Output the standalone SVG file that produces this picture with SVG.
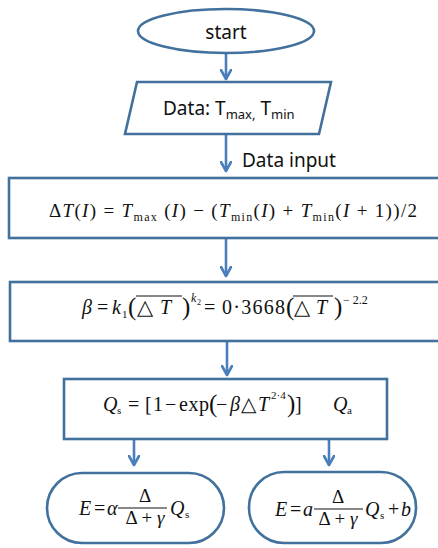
<svg xmlns="http://www.w3.org/2000/svg" width="438" height="548" viewBox="0 0 438 548">
  <defs>
    <marker id="open-arrow" viewBox="0 0 12 12" refX="10" refY="6" markerWidth="12" markerHeight="12" markerUnits="userSpaceOnUse" orient="auto">
      <path d="M1,1 L10,6 L1,11" fill="none" stroke="#4A7EBB" stroke-width="2.6" stroke-linecap="round" stroke-linejoin="round"/>
    </marker>
    <style>
      .shape { fill: #ffffff; stroke: #41719C; stroke-width: 2.6; }
      .label { font-family: "Noto Sans", "Open Sans", sans-serif; font-size: 19px; fill: #111111; }
      .sub { font-size: 13px; }
      .math { font-family: "Liberation Serif", "DejaVu Serif", serif; font-size: 19px; fill: #111111; }
      .big { font-size: 20px; }
      .tri { font-size: 21px; }
      .paren { font-size: 25px; }
      .it { font-style: italic; }
      .small { font-size: 12px; }
      .tiny { font-size: 11px; }
      .conn { stroke: #4A7EBB; stroke-width: 2.6; fill: none; marker-end: url(#open-arrow); }
      .bar { stroke: #111111; stroke-width: 1.1; }
    </style>
  </defs>

  <!-- connectors -->
  <g id="connectors">
    <line class="conn" x1="226" y1="54" x2="226" y2="79"/>
    <line class="conn" x1="226" y1="134" x2="226" y2="171"/>
    <line class="conn" x1="226" y1="238" x2="226" y2="276"/>
    <line class="conn" x1="227" y1="341" x2="227" y2="375"/>
    <line class="conn" x1="134" y1="439" x2="134" y2="465"/>
    <line class="conn" x1="329" y1="439" x2="329" y2="465"/>
    <text class="label" x="242" y="167">Data input</text>
  </g>

  <!-- start terminator -->
  <g id="start">
    <ellipse class="shape" cx="226" cy="31" rx="88" ry="22"/>
    <text class="label" x="226" y="39" text-anchor="middle">start</text>
  </g>

  <!-- input data -->
  <g id="data">
    <polygon class="shape" points="137,82 331,82 319,134 125,134"/>
    <text class="label" x="163" y="115">Data: T<tspan class="sub" dy="4">max,</tspan><tspan dy="-4"> T</tspan><tspan class="sub" dy="4">min</tspan></text>
  </g>

  <!-- temperature range -->
  <g id="delta-t">
    <rect class="shape" x="9" y="178" width="440" height="60"/>
    <text class="math" x="49" y="217" textLength="368">Δ<tspan class="it">T</tspan>(<tspan class="it">I</tspan>) = <tspan class="it">T</tspan><tspan class="small" dy="4">max</tspan><tspan dy="-4"> (</tspan><tspan class="it">I</tspan>) − (<tspan class="it">T</tspan><tspan class="small" dy="4">min</tspan><tspan dy="-4">(</tspan><tspan class="it">I</tspan>) + <tspan class="it">T</tspan><tspan class="small" dy="4">min</tspan><tspan dy="-4">(</tspan><tspan class="it">I</tspan> + 1))/2</text>
  </g>

  <!-- beta coefficient -->
  <g id="beta">
    <rect class="shape" x="10" y="282" width="440" height="59"/>
    <text class="math big it" x="82" y="314">β</text>
    <text class="math big" x="97" y="314">=</text>
    <text class="math big it" x="112" y="314">k</text>
    <text class="math tiny" x="122" y="318">1</text>
    <text class="math paren" x="128" y="315">(</text>
    <line class="bar" x1="136" y1="296" x2="182" y2="296"/>
    <text class="math tri" x="137" y="314">△</text>
    <text class="math big it" x="160" y="314">T</text>
    <text class="math paren" x="182" y="315">)</text>
    <text class="math small it" x="191" y="302">k</text>
    <text class="math" x="197" y="305" style="font-size:8px">2</text>
    <text class="math big" x="204" y="314">=</text>
    <text class="math big" x="222" y="314" textLength="63">0·3668</text>
    <text class="math paren" x="286" y="315">(</text>
    <line class="bar" x1="293" y1="296" x2="333" y2="296"/>
    <text class="math tri" x="294" y="314">△</text>
    <text class="math big it" x="316" y="314">T</text>
    <text class="math paren" x="334" y="315">)</text>
    <text class="math small" x="343" y="304">− 2.2</text>
  </g>

  <!-- sensible heat -->
  <g id="q-s">
    <rect class="shape" x="64" y="379" width="323" height="60"/>
    <text class="math big it" x="103" y="411">Q</text>
    <text class="math tiny" x="117" y="414">s</text>
    <text class="math big" x="128" y="411">=</text>
    <text class="math big" x="145" y="411">[</text>
    <text class="math big" x="153" y="411">1</text>
    <text class="math big" x="165" y="411">−</text>
    <text class="math big" x="179" y="411" textLength="30">exp</text>
    <text class="math paren" x="209" y="412">(</text>
    <text class="math big" x="216" y="411">−</text>
    <text class="math big it" x="230" y="411">β</text>
    <text class="math big" x="241" y="411">△</text>
    <text class="math big it" x="258" y="411">T</text>
    <text class="math tiny" x="271" y="399">2·4</text>
    <text class="math paren" x="287" y="412">)</text>
    <text class="math big" x="295" y="411">]</text>
    <text class="math big it" x="333" y="411">Q</text>
    <text class="math tiny" x="347" y="414">a</text>
  </g>

  <!-- evaporation, model 1 -->
  <g id="e-model-1">
    <rect class="shape" x="47" y="473" width="177" height="70" rx="35" ry="35"/>
    <text class="math big it" x="79" y="515">E</text>
    <text class="math big" x="94" y="515">=</text>
    <text class="math big it" x="107" y="515">α</text>
    <line class="bar" x1="118" y1="508" x2="167" y2="508"/>
    <text class="math" x="145" y="502" text-anchor="middle">Δ</text>
    <text class="math" x="145" y="524" text-anchor="middle">Δ + <tspan class="it">γ</tspan></text>
    <text class="math big it" x="170" y="515">Q</text>
    <text class="math tiny" x="185" y="518">s</text>
  </g>

  <!-- evaporation, model 2 -->
  <g id="e-model-2">
    <rect class="shape" x="249" y="472" width="167" height="71" rx="35" ry="35"/>
    <text class="math big it" x="275" y="516">E</text>
    <text class="math big" x="290" y="516">=</text>
    <text class="math big it" x="303" y="516">a</text>
    <line class="bar" x1="314" y1="509" x2="363" y2="509"/>
    <text class="math" x="338" y="503" text-anchor="middle">Δ</text>
    <text class="math" x="338" y="525" text-anchor="middle">Δ + <tspan class="it">γ</tspan></text>
    <text class="math big it" x="365" y="516">Q</text>
    <text class="math tiny" x="380" y="519">s</text>
    <text class="math big" x="388" y="516">+</text>
    <text class="math big it" x="401" y="516">b</text>
  </g>
</svg>
